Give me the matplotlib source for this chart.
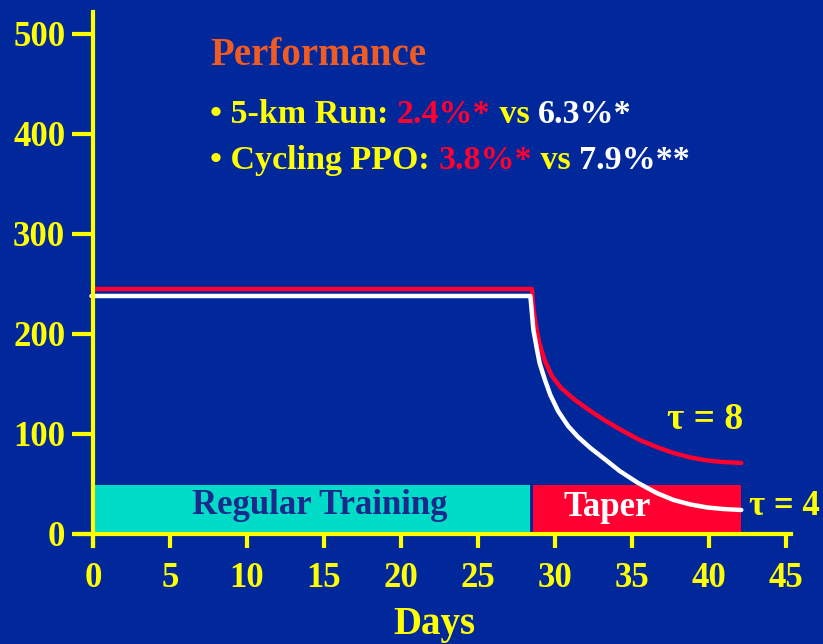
import matplotlib
matplotlib.use("Agg")
from matplotlib import pyplot as plt

# flat training load then the taper decay
red_days = [0, 28.5, 28.6, 28.8, 29.0, 29.35, 29.8, 30.4, 31.3, 32.3, 33.3, 34.3, 35.5,
            36.6, 37.7, 38.8, 39.9, 40.9, 42.1]
red_load = [245, 245, 225, 205, 190, 173, 158, 146, 134, 123, 113, 104, 94,
            87, 81, 76.5, 73.5, 72, 71]
white_days = [-0.1, 28.4, 28.5, 28.6, 28.8, 29.0, 29.35, 29.7, 30.2, 30.85, 31.5, 32.3,
              33.3, 34.2, 35.4, 36.6, 37.7, 38.8, 39.9, 40.9, 42.1]
white_load = [238, 238, 221, 204, 187, 171, 154, 139, 123, 108, 97, 86,
              74, 63, 51, 41, 34, 29.5, 26.5, 25, 24]

phase_names = ["Regular Training", "Taper"]
phase_start = [0, 28.6]
phase_end = [28.4, 42.1]
phase_height = 49

xticks = [0, 5, 10, 15, 20, 25, 30, 35, 40, 45]
yticks = [0, 100, 200, 300, 400, 500]

bg = "#00289a"
yellow = "#ffff00"
red = "#ff0030"
cyan = "#00dcc8"
navy = "#1a2a8c"
orange = "#f05a23"

plt.rcParams["font.family"] = ["Liberation Serif", "DejaVu Serif"]
plt.rcParams["font.weight"] = "bold"
plt.rcParams["axes.labelweight"] = "bold"

fig = plt.figure(figsize=(8.23, 6.44), dpi=100, facecolor=bg)
ax = fig.add_axes([0.0943, 0.1522, 0.8663, 0.8292])
ax.set_facecolor(bg)
ax.set_xlim(-1, 45.3)
ax.set_ylim(-12, 522)

# phase bars
ax.bar(phase_start[0], phase_height, width=phase_end[0] - phase_start[0], align="edge", color=cyan, zorder=2)
ax.bar(phase_start[1], phase_height, width=phase_end[1] - phase_start[1], align="edge", color=red, zorder=2)
ax.text(14.7, 28, phase_names[0], color=navy, fontsize=25, ha="center", va="center", zorder=3)
ax.text(33.4, 26, phase_names[1], color="white", fontsize=25, ha="center", va="center", zorder=3)

ax.plot(red_days, red_load, color=red, lw=3.2, solid_capstyle="round", solid_joinstyle="round", zorder=4)
ax.plot(white_days, white_load, color="white", lw=3.2, solid_capstyle="round", solid_joinstyle="round", zorder=4)

ax.text(37.3, 114, "τ = 8", color=yellow, fontsize=27, va="center")
ax.text(42.6, 27, "τ = 4", color=yellow, fontsize=25, va="center")

# axes crossing at zero
for side in ["top", "right"]:
    ax.spines[side].set_visible(False)
ax.spines["left"].set_position(("data", 0))
ax.spines["bottom"].set_position(("data", 0))
for side in ["left", "bottom"]:
    ax.spines[side].set_color(yellow)
    ax.spines[side].set_linewidth(3)
    ax.spines[side].set_zorder(5)

ax.set_xticks(xticks)
ax.set_yticks(yticks)
ax.tick_params(axis="x", colors=yellow, length=10, width=3, direction="out", labelsize=25, pad=10)
ax.tick_params(axis="y", colors=yellow, length=15, width=3, direction="out", labelsize=25, pad=5)
ax.set_xlabel("Days", color=yellow, fontsize=28, labelpad=8)

# performance box with coloured runs of text
ax.text(7.6, 478, "Performance", color=orange, fontsize=28, va="center")
lines = [
    [("• 5-km Run: ", yellow), ("2.4%*", red), (" vs ", yellow), ("6.3%*", "white")],
    [("• Cycling PPO: ", yellow), ("3.8%*", red), (" vs ", yellow), ("7.9%**", "white")],
]
for row, y in zip(lines, [419, 373]):
    prev = ax.text(7.6, y, row[0][0], color=row[0][1], fontsize=24.5, va="center")
    for s, c in row[1:]:
        prev = ax.annotate(s, xy=(1, 0), xycoords=prev, va="bottom", ha="left",
                           color=c, fontsize=24.5)

fig.savefig("out.png", dpi=100, facecolor=bg)
